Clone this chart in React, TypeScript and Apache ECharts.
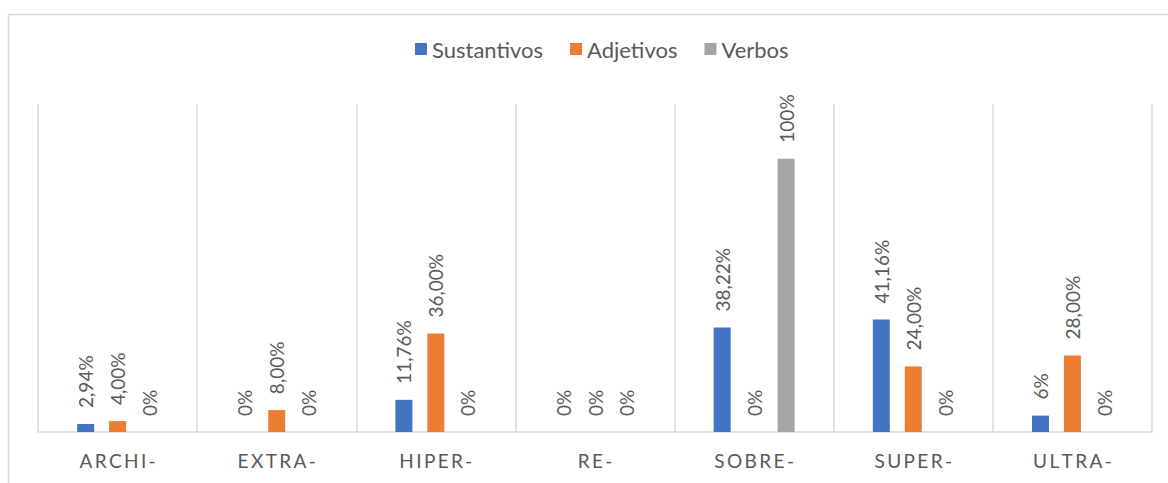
import React, { useEffect, useRef } from "react";
import * as echarts from "echarts";

const categories = ["ARCHI-", "EXTRA-", "HIPER-", "RE-", "SOBRE-", "SUPER-", "ULTRA-"];
const seriesNames = ["Sustantivos", "Adjetivos", "Verbos"];
const sustantivos = [2.94, 0, 11.76, 0, 38.22, 41.16, 6];
const adjetivos = [4.0, 8.0, 36.0, 0, 0, 24.0, 28.0];
const verbos = [0, 0, 0, 0, 100, 0, 0];
const sustantivosLabels = ["2,94%", "0%", "11,76%", "0%", "38,22%", "41,16%", "6%"];
const adjetivosLabels = ["4,00%", "8,00%", "36,00%", "0%", "0%", "24,00%", "28,00%"];
const verbosLabels = ["0%", "0%", "0%", "0%", "100%", "0%", "0%"];
const colors = ["#4472C4", "#ED7D31", "#A5A5A5"];

const FONT = "Lato, 'Noto Sans', sans-serif";
const TEXT = "#595959";
const GRID = "#D9D9D9";

export default function App() {
  const ref = useRef<HTMLDivElement>(null);
  useEffect(() => {
    if (!ref.current) return;
    const chart = echarts.init(ref.current, null, { renderer: "svg" });
    const values = [sustantivos, adjetivos, verbos];
    const labels = [sustantivosLabels, adjetivosLabels, verbosLabels];
    chart.setOption({
      animation: false,
      textStyle: { fontFamily: FONT },
      color: colors,
      legend: {
        data: seriesNames,
        top: 33,
        left: 410,
        itemWidth: 12,
        itemHeight: 12,
        itemGap: 27,
        icon: "rect",
        textStyle: { color: TEXT, fontSize: 22, fontFamily: FONT },
      },
      grid: { left: 38, right: 16, top: 104, bottom: 51 },
      xAxis: {
        type: "category",
        data: categories,
        axisLine: { lineStyle: { color: GRID, width: 1.5 } },
        axisTick: { show: false },
        splitLine: { show: true, lineStyle: { color: GRID, width: 1.5 } },
        axisLabel: {
          color: TEXT,
          fontSize: 19,
          fontFamily: FONT,
          margin: 19,
          formatter: (v: string) => v.split("").join("\u2009"),
        },
      },
      yAxis: {
        type: "value",
        min: 0,
        max: 120,
        show: false,
        splitLine: { show: false },
      },
      graphic: [
        { type: "line", shape: { x1: 8, y1: 14.5, x2: 1168, y2: 14.5 }, style: { stroke: GRID, lineWidth: 1.5 } },
        { type: "line", shape: { x1: 8.5, y1: 14, x2: 8.5, y2: 483 }, style: { stroke: GRID, lineWidth: 1.5 } },
      ],
      series: seriesNames.map((name, i) => ({
        name,
        type: "bar",
        data: values[i],
        barWidth: 17,
        barGap: "88%",
        itemStyle: { color: colors[i] },
        label: {
          show: true,
          position: "top",
          rotate: 90,
          align: "left",
          verticalAlign: "middle",
          distance: 16,
          color: TEXT,
          fontSize: 19,
          fontFamily: FONT,
          formatter: (p: any) => labels[i][p.dataIndex],
        },
      })),
    });
    return () => chart.dispose();
  }, []);
  return (
    <div
      ref={ref}
      style={{ position: "fixed", left: 0, top: 0, width: 1168, height: 483, background: "#fff" }}
    />
  );
}
